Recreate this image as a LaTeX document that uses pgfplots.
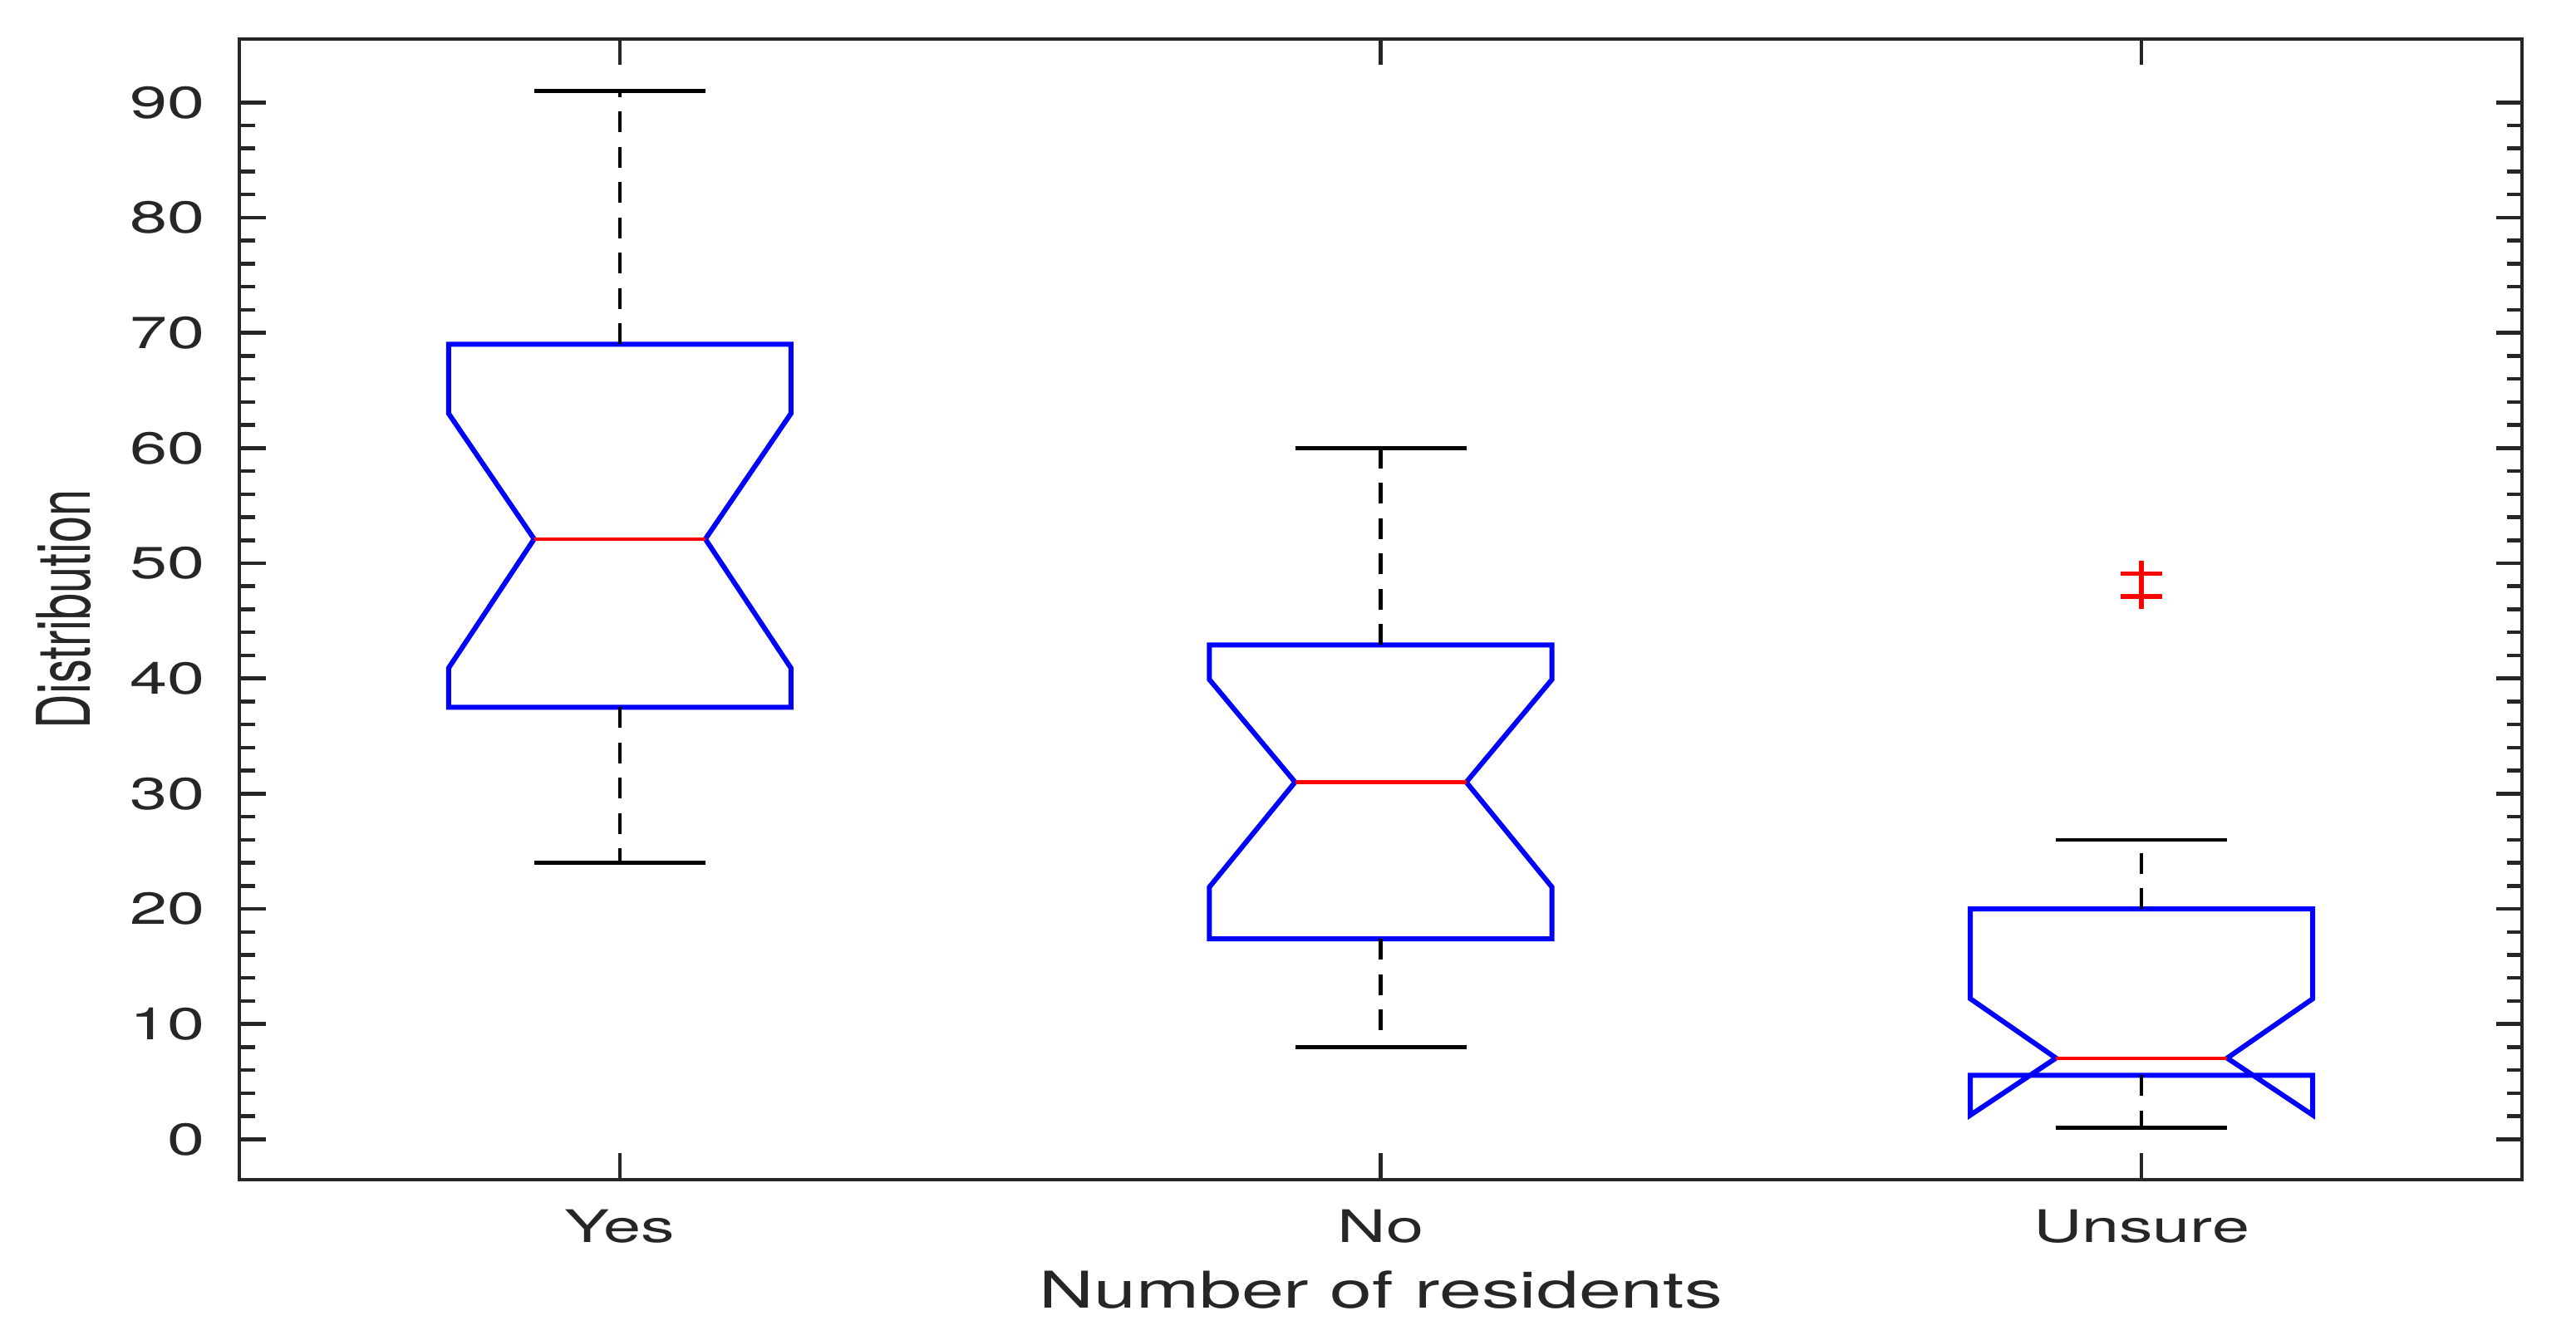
\documentclass[border=0pt]{standalone}
\usepackage{pgfplots}
\pgfplotsset{compat=1.18}
\usepackage{fontspec}
\setmainfont[FakeStretch=1.5]{TeX Gyre Heros}
\newfontfamily\ylabfont[FakeStretch=0.647]{TeX Gyre Heros}
\begin{document}
\begin{tikzpicture}
\begin{axis}[
  scale only axis, width=549.4pt, height=274.6pt,
  xmin=0.5, xmax=3.5, ymin=-3.5, ymax=95.5,
  xtick={1,2,3}, xticklabels={Yes,No,Unsure},
  ytick={0,10,...,90}, minor y tick num=4,
  tick align=inside, tick pos=both,
  major tick length=6.3pt, minor tick length=3.7pt,
  axis line style={black!85, line width=0.95pt},
  every tick/.style={black!85, line width=0.9pt},
  every minor tick/.style={black!85, line width=0.9pt},
  /pgf/number format/assume math mode=true,
  tick label style={font=\fontsize{10.8}{12}\selectfont, text=black!85},
  xticklabel style={anchor=base, yshift=-15.2pt},
  yticklabel style={anchor=east, inner sep=0pt, xshift=-8pt},
  xlabel={Number of residents},
  xlabel style={font=\fontsize{12.2}{14}\selectfont, text=black!85, at={(axis description cs:0.5,-0.1129)}, anchor=base},
  ylabel={Distribution},
  ylabel style={font=\fontsize{17.8}{20}\ylabfont, text=black!85, at={(axis description cs:-0.0655,0.5)}, anchor=base, rotate=0},
  clip=false,
]
% Yes
\addplot[blue, line width=1.2pt, line join=miter] coordinates {(1,37.5) (0.775,37.5) (0.775,40.9) (0.8875,52.1) (0.775,63.0) (0.775,69.0) (1.225,69.0) (1.225,63.0) (1.1125,52.1) (1.225,40.9) (1.225,37.5) (1,37.5)};
\addplot[red, line width=0.85pt] coordinates {(0.8875,52.1) (1.1125,52.1)};
\addplot[black, line width=0.9pt, dash pattern=on 5pt off 3.5pt] coordinates {(1,69.0) (1,91.0)};
\addplot[black, line width=0.9pt, dash pattern=on 5pt off 3.5pt] coordinates {(1,37.5) (1,24.0)};
\addplot[black, line width=0.9pt] coordinates {(0.8875,91.0) (1.1125,91.0)};
\addplot[black, line width=0.9pt] coordinates {(0.8875,24.0) (1.1125,24.0)};
% No
\addplot[blue, line width=1.2pt, line join=miter] coordinates {(2,17.4) (1.775,17.4) (1.775,21.9) (1.8875,31.0) (1.775,39.9) (1.775,42.9) (2.225,42.9) (2.225,39.9) (2.1125,31.0) (2.225,21.9) (2.225,17.4) (2,17.4)};
\addplot[red, line width=0.85pt] coordinates {(1.8875,31.0) (2.1125,31.0)};
\addplot[black, line width=0.9pt, dash pattern=on 5pt off 3.5pt] coordinates {(2,42.9) (2,60.0)};
\addplot[black, line width=0.9pt, dash pattern=on 5pt off 3.5pt] coordinates {(2,17.4) (2,8.0)};
\addplot[black, line width=0.9pt] coordinates {(1.8875,60.0) (2.1125,60.0)};
\addplot[black, line width=0.9pt] coordinates {(1.8875,8.0) (2.1125,8.0)};
% Unsure
\addplot[blue, line width=1.2pt, line join=miter] coordinates {(3,5.55) (2.775,5.55) (2.775,2.1) (2.8875,7.05) (2.775,12.2) (2.775,20.0) (3.225,20.0) (3.225,12.2) (3.1125,7.05) (3.225,2.1) (3.225,5.55) (3,5.55)};
\addplot[red, line width=0.85pt] coordinates {(2.8875,7.05) (3.1125,7.05)};
\addplot[black, line width=0.9pt, dash pattern=on 5pt off 3.5pt] coordinates {(3,20.0) (3,26.0)};
\addplot[black, line width=0.9pt, dash pattern=on 5pt off 3.5pt] coordinates {(3,5.55) (3,1.0)};
\addplot[black, line width=0.9pt] coordinates {(2.8875,26.0) (3.1125,26.0)};
\addplot[black, line width=0.9pt] coordinates {(2.8875,1.0) (3.1125,1.0)};
\addplot[only marks, red, mark=+, mark size=3pt, mark options={xscale=1.67, line width=1.1pt}] coordinates {(3,49.1) (3,47.1)};
\coordinate (SW) at (rel axis cs:0,0);
\coordinate (NE) at (rel axis cs:1,1);
\end{axis}
\pgfresetboundingbox
\path ([shift={(-57.6pt,-38.6pt)}]SW) rectangle ([shift={(13pt,9.4pt)}]NE);
\end{tikzpicture}
\end{document}
